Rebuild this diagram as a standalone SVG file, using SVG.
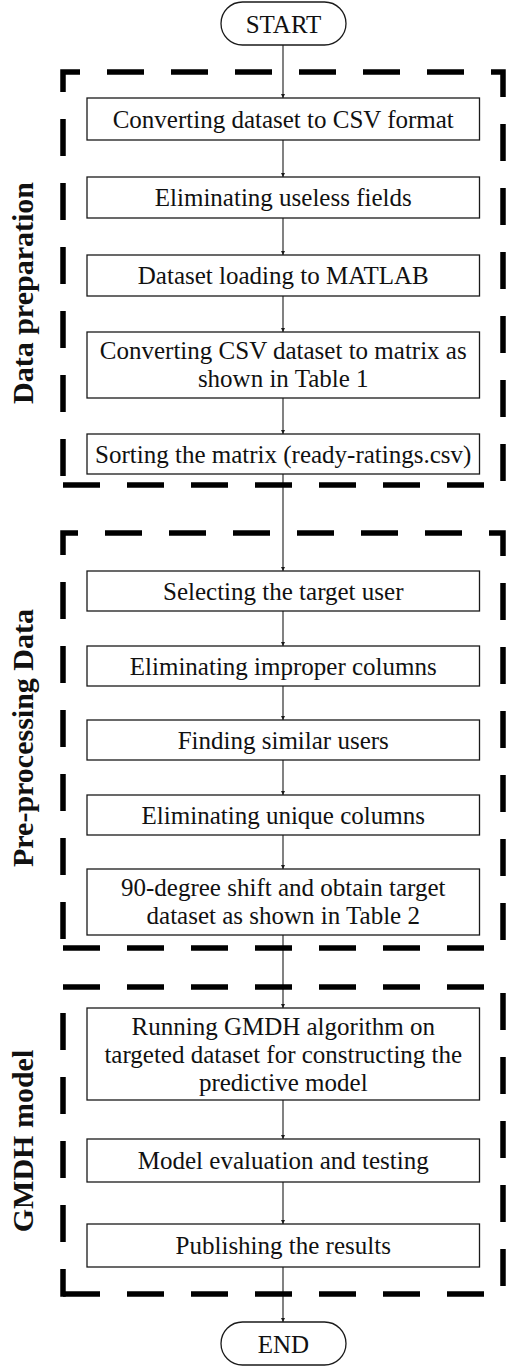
<svg xmlns="http://www.w3.org/2000/svg" width="506" height="1367" viewBox="0 0 506 1367">
<style>
.bg{fill:#fff}
.box{fill:#fff;stroke:#1a1a1a;stroke-width:1.3}
.term{fill:#fff;stroke:#1a1a1a;stroke-width:1.3}
.t{font-family:"Liberation Serif","Times New Roman",serif;font-size:25px;fill:#111;text-anchor:middle}
.lbl{font-family:"Liberation Serif","Times New Roman",serif;font-size:30px;font-weight:bold;fill:#111;text-anchor:middle}
.dash{fill:none;stroke:#000;stroke-width:5.5;stroke-dasharray:37 27;stroke-linejoin:miter}
.conn{stroke:#1a1a1a;stroke-width:1.1;fill:none;marker-end:url(#arr)}
</style>
<defs>
<marker id="arr" markerUnits="userSpaceOnUse" markerWidth="6" markerHeight="6" refX="4" refY="2" orient="auto">
<path d="M0,0 L4,2 L0,4 z" fill="#1a1a1a"/>
</marker>
</defs>
<rect class="bg" x="0" y="0" width="506" height="1367"/>

<g id="connectors">
<line class="conn" x1="283" y1="45" x2="283" y2="98"/>
<line class="conn" x1="283" y1="140" x2="283" y2="177"/>
<line class="conn" x1="283" y1="218" x2="283" y2="255"/>
<line class="conn" x1="283" y1="296" x2="283" y2="332"/>
<line class="conn" x1="283" y1="398" x2="283" y2="434"/>
<line class="conn" x1="283" y1="474" x2="283" y2="571"/>
<line class="conn" x1="283" y1="611" x2="283" y2="646"/>
<line class="conn" x1="283" y1="686" x2="283" y2="720"/>
<line class="conn" x1="283" y1="760" x2="283" y2="795"/>
<line class="conn" x1="283" y1="835" x2="283" y2="869"/>
<line class="conn" x1="283" y1="935" x2="283" y2="1008"/>
<line class="conn" x1="283" y1="1100" x2="283" y2="1139"/>
<line class="conn" x1="283" y1="1182" x2="283" y2="1224"/>
<line class="conn" x1="283" y1="1267" x2="283" y2="1322"/>
</g>

<g id="group-data-preparation">
<path class="dash" style="stroke-dashoffset:55" d="M63,485 V72 H503 V485"/>
<path class="dash" d="M63,485 H503"/>
<text class="lbl" transform="translate(33,293) rotate(-90)">Data preparation</text>
</g>
<g id="group-pre-processing">
<path class="dash" style="stroke-dashoffset:55" d="M63,948 V533 H503 V948"/>
<path class="dash" d="M63,948 H503"/>
<text class="lbl" transform="translate(33,738) rotate(-90)">Pre-processing Data</text>
</g>
<g id="group-gmdh">
<path class="dash" d="M63,987 H503"/>
<path class="dash" style="stroke-dashoffset:38" d="M63,987 V1296.75"/>
<path class="dash" style="stroke-dashoffset:58" d="M503,987 V1294"/>
<path class="dash" d="M63,1294 H503"/>
<text class="lbl" transform="translate(33,1141) rotate(-90)">GMDH model</text>
</g>

<g id="start">
<rect class="term" x="221" y="2" width="125" height="43" rx="21.5"/>
<text class="t" x="283.5" y="33">START</text>
</g>
<g id="n1">
<rect class="box" x="87" y="98" width="392.5" height="42"/>
<text class="t" x="283.25" y="127.5">Converting dataset to CSV format</text>
</g>
<g id="n2">
<rect class="box" x="87" y="177" width="392.5" height="41"/>
<text class="t" x="283.25" y="206">Eliminating useless fields</text>
</g>
<g id="n3">
<rect class="box" x="87" y="255" width="392.5" height="41"/>
<text class="t" x="283.25" y="284">Dataset loading to MATLAB</text>
</g>
<g id="n4">
<rect class="box" x="87" y="332" width="392.5" height="66"/>
<text class="t" x="283.25" y="359">Converting CSV dataset to matrix as</text>
<text class="t" x="283.25" y="387">shown in Table 1</text>
</g>
<g id="n5">
<rect class="box" x="87" y="434" width="392.5" height="40"/>
<text class="t" x="283.25" y="462.5">Sorting the matrix (ready-ratings.csv)</text>
</g>
<g id="n6">
<rect class="box" x="87" y="571" width="392.5" height="40"/>
<text class="t" x="283.25" y="599.5">Selecting the target user</text>
</g>
<g id="n7">
<rect class="box" x="87" y="646" width="392.5" height="40"/>
<text class="t" x="283.25" y="674.5">Eliminating improper columns</text>
</g>
<g id="n8">
<rect class="box" x="87" y="720" width="392.5" height="40"/>
<text class="t" x="283.25" y="748.5">Finding similar users</text>
</g>
<g id="n9">
<rect class="box" x="87" y="795" width="392.5" height="40"/>
<text class="t" x="283.25" y="823.5">Eliminating unique columns</text>
</g>
<g id="n10">
<rect class="box" x="87" y="869" width="392.5" height="66"/>
<text class="t" x="283.25" y="896">90-degree shift and obtain target</text>
<text class="t" x="283.25" y="924">dataset as shown in Table 2</text>
</g>
<g id="n11">
<rect class="box" x="87" y="1008" width="392.5" height="92"/>
<text class="t" x="283.25" y="1035">Running GMDH algorithm on</text>
<text class="t" x="283.25" y="1063">targeted dataset for constructing the</text>
<text class="t" x="283.25" y="1091">predictive model</text>
</g>
<g id="n12">
<rect class="box" x="87" y="1139" width="392.5" height="43"/>
<text class="t" x="283.25" y="1169">Model evaluation and testing</text>
</g>
<g id="n13">
<rect class="box" x="87" y="1224" width="392.5" height="43"/>
<text class="t" x="283.25" y="1254">Publishing the results</text>
</g>
<g id="end">
<rect class="term" x="221" y="1322" width="125" height="43" rx="21.5"/>
<text class="t" x="283.5" y="1353">END</text>
</g>
</svg>
